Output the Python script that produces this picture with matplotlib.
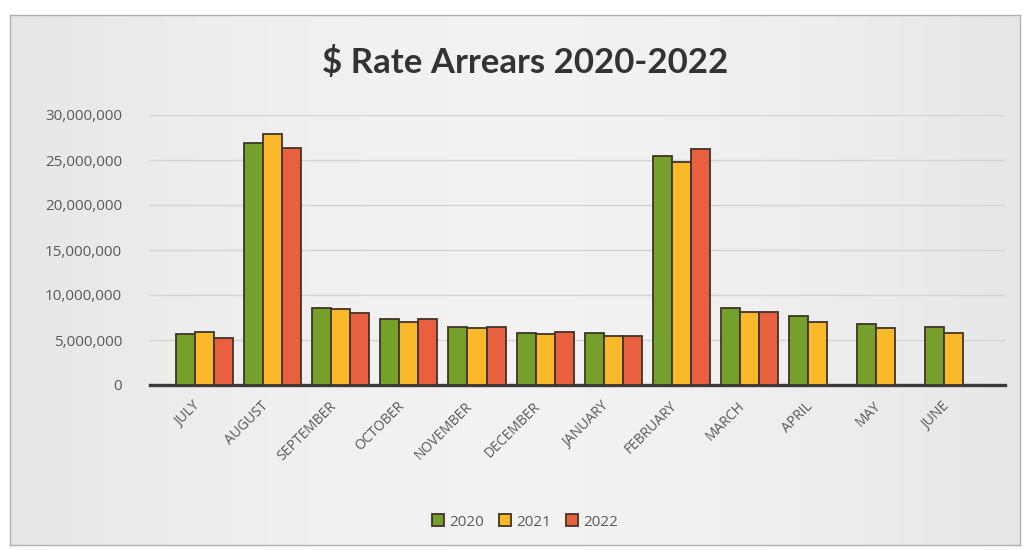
import numpy as np
import matplotlib
matplotlib.use("Agg")
import matplotlib.pyplot as plt
import matplotlib.transforms as mtransforms
from matplotlib.ticker import FuncFormatter, MultipleLocator

months = ["JULY", "AUGUST", "SEPTEMBER", "OCTOBER", "NOVEMBER", "DECEMBER",
          "JANUARY", "FEBRUARY", "MARCH", "APRIL", "MAY", "JUNE"]
series_names = ["2020", "2021", "2022"]
vals_2020 = [5.7e6, 26.9e6, 8.6e6, 7.3e6, 6.5e6, 5.8e6, 5.8e6, 25.4e6, 8.6e6, 7.7e6, 6.8e6, 6.4e6]
vals_2021 = [5.9e6, 27.9e6, 8.4e6, 7.0e6, 6.3e6, 5.7e6, 5.4e6, 24.8e6, 8.1e6, 7.0e6, 6.3e6, 5.8e6]
vals_2022 = [5.2e6, 26.3e6, 8.0e6, 7.3e6, 6.5e6, 5.9e6, 5.5e6, 26.2e6, 8.1e6, np.nan, np.nan, np.nan]
colors = ["#76A02C", "#F9B92B", "#E8603F"]
edge = "#3f3426"

W, H = 1028, 550
fig = plt.figure(figsize=(W / 100, H / 100), dpi=100)
fig.patch.set_facecolor("white")

# chart area background with soft gradient
bg = fig.add_axes([10 / W, 5 / H, 1010 / W, 530 / H])
grad = np.linspace(0, 1, 256)
g = 0.905 + 0.045 * np.sin(np.pi * grad)
img = np.tile(g, (2, 1))
bg.imshow(np.dstack([img, img, img]), aspect="auto", extent=[0, 1, 0, 1])
bg.set_xlim(0, 1); bg.set_ylim(0, 1)
bg.set_xticks([]); bg.set_yticks([])
for s in bg.spines.values():
    s.set_color("#b0b0b0"); s.set_linewidth(1)

ax = fig.add_axes([150 / W, 165 / H, 855 / W, 270 / H])
ax.set_facecolor("none")
x = np.arange(len(months))
bw = 0.28
for i, (vals, c, name) in enumerate(zip([vals_2020, vals_2021, vals_2022], colors, series_names)):
    ax.bar(x + (i - 1) * bw, vals, width=bw, color=c, edgecolor=edge, linewidth=1.3,
           label=name, zorder=3)

ax.set_ylim(0, 30e6)
ax.set_xlim(-0.8, 11.75)
ax.yaxis.set_major_locator(MultipleLocator(5e6))
ax.yaxis.set_major_formatter(FuncFormatter(lambda v, p: f"{int(v):,}"))
ax.grid(axis="y", color="#d4d4d4", linewidth=1, zorder=0)
for s in ["top", "right", "left"]:
    ax.spines[s].set_visible(False)
ax.spines["bottom"].set_color("#3a3a3a")
ax.spines["bottom"].set_linewidth(2.4)
ax.tick_params(axis="both", length=0)
ax.tick_params(axis="y", pad=20, labelsize=11, labelcolor="#595959")
ax.set_xticks(x)
ax.set_xticklabels(months, rotation=45, ha="right", va="top", rotation_mode="anchor",
                   fontsize=10, color="#595959")
ax.tick_params(axis="x", pad=10)
offset = mtransforms.ScaledTranslation(-12 / 100, 0, fig.dpi_scale_trans)
for lab in ax.get_xticklabels():
    lab.set_transform(lab.get_transform() + offset)
for lab in ax.get_yticklabels() + ax.get_xticklabels():
    lab.set_family("Open Sans")

fig.text(525 / W, 1 - 62 / H, "$ Rate Arrears 2020-2022", ha="center", va="center",
         fontsize=25, fontweight="bold", color="#333333", family="Lato")

leg = fig.legend(loc="center", bbox_to_anchor=(525 / W, 1 - 522 / H), ncol=3,
                 frameon=False, handlelength=0.8, handleheight=0.8, handletextpad=0.3,
                 columnspacing=1.0, prop={"family": "Open Sans", "size": 11})
for t in leg.get_texts():
    t.set_color("#595959")

fig.savefig("out.png", dpi=100)
